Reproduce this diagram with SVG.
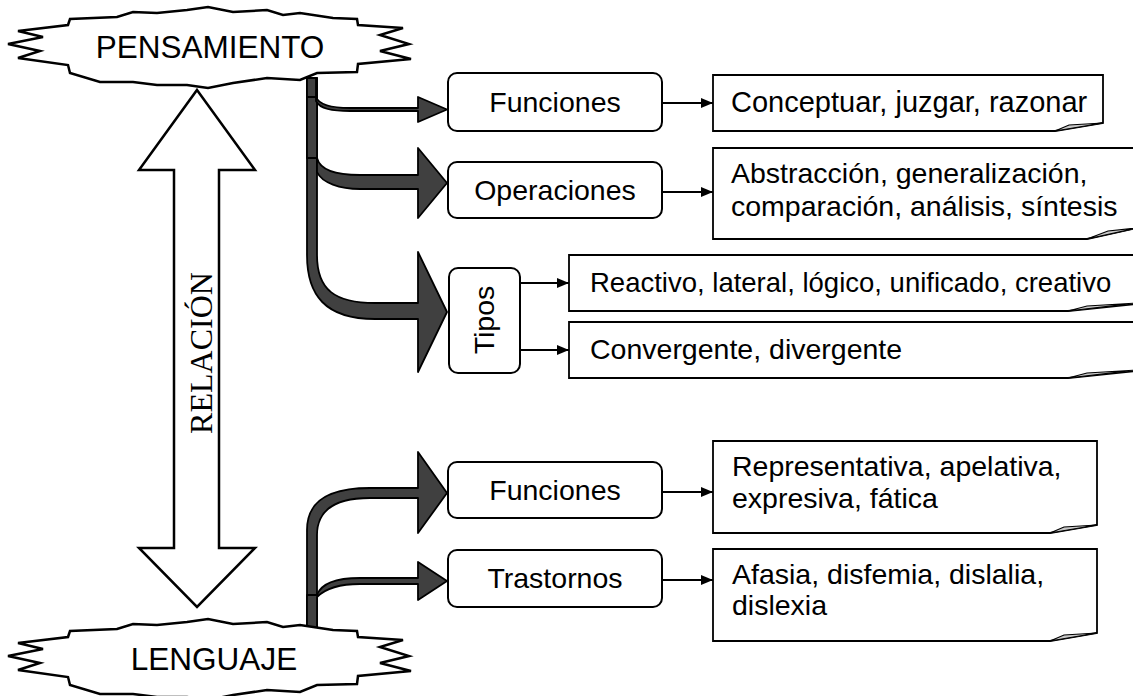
<svg xmlns="http://www.w3.org/2000/svg" width="1133" height="696" viewBox="0 0 1133 696">
<defs>
<style>
.t{font-family:"Liberation Sans",Arial,sans-serif;font-size:28.5px;fill:#000}
.big{font-size:31.5px}
.rb{fill:#fff;stroke:#000;stroke-width:2}
.note{fill:#fff;stroke:#000;stroke-width:1.8}
.fold{fill:#c8c8c8;stroke:#000;stroke-width:1.2}
.bk{fill:#404040;stroke:#000;stroke-width:1.8;stroke-linejoin:round}
.ln{fill:none;stroke:#000;stroke-width:2}
.burst{fill:#fff;stroke:#000;stroke-width:2.5;stroke-linejoin:miter}
</style>
<marker id="ah" markerWidth="12" markerHeight="10" refX="12" refY="5" orient="auto" markerUnits="userSpaceOnUse">
<path d="M0,0 L12,5 L0,10 Z" fill="#000"/>
</marker>
<path id="burstShape" d="M-145,-22 L-143,-28 L-96,-30 L-80,-35 L-56,-34 L-26,-37 L-5,-40 L20,-35 L54,-37 L70,-32 L87,-34 L120,-29 L144,-28 L145,-22 L190,-19 L167,-12 L196,-3 L167,4 L198,12 L145,17 L144,25 L104,26 L87,33 L54,31 L20,36 L-5,41 L-26,38 L-56,38 L-80,35 L-113,35 L-143,26 L-145,18 L-195,11 L-173,4 L-205,-3 L-170,-10 L-195,-16 Z"/>
</defs>
<rect width="1133" height="696" fill="#fff"/>

<g id="connectors">
<path class="bk" d="M307,78 L317,78 L317,255 C317,290 335,303 375,303 L418,303 L418,252 L447,312 L418,372 L418,319 L375,319 C325,319 307,295 307,255 Z"/>
<path class="bk" d="M307,78 L317,78 L317,158 C320,170 335,175 360,175 L418,175 L418,148 L447,183 L418,218 L418,189 L360,189 C340,189 322,183 317,172 L317,158 L307,158 Z"/>
<path class="bk" d="M307,78 L316,78 L316,97 C319,105 330,108 350,108 L418,108 L418,97 L447,109.5 L418,122 L418,111 L350,111 C332,111 320,109 316,101 L316,97 L307,97 Z"/>
<path class="bk" d="M307,632 L307,530 C307,500 330,488 370,488 L418,488 L418,452 L447,493 L418,533 L418,498 L370,498 C335,498 317,510 317,535 L317,632 Z"/>
<path class="bk" d="M307,632 L307,595 L317,595 C321,584 335,578 360,578 L418,578 L418,562 L447,581 L418,600 L418,584 L360,584 C340,584 325,589 317,597 L317,632 Z"/>
<line class="ln" x1="663" y1="103" x2="713" y2="103" marker-end="url(#ah)"/>
<line class="ln" x1="663" y1="192" x2="713" y2="192" marker-end="url(#ah)"/>
<line class="ln" x1="521" y1="283" x2="569" y2="283" marker-end="url(#ah)"/>
<line class="ln" x1="521" y1="350" x2="569" y2="350" marker-end="url(#ah)"/>
<line class="ln" x1="663" y1="492" x2="713" y2="492" marker-end="url(#ah)"/>
<line class="ln" x1="663" y1="580" x2="713" y2="580" marker-end="url(#ah)"/>
</g>

<g id="relacion">
<polygon points="197,90 255,170 219,170 219,548 255,548 197,607 139,548 174,548 174,170 139,170" fill="#fff" stroke="#000" stroke-width="2.5" stroke-linejoin="miter"/>
<text transform="translate(212,353) rotate(-90)" text-anchor="middle" font-family="'Liberation Serif','Times New Roman',serif" font-size="32">RELACIÓN</text>
</g>

<g id="pensamiento">
<use href="#burstShape" class="burst" transform="translate(213,47)"/>
<text class="t big" x="210" y="58" text-anchor="middle">PENSAMIENTO</text>
</g>

<g id="lenguaje">
<use href="#burstShape" class="burst" transform="translate(213,659)"/>
<text class="t big" x="214" y="670" text-anchor="middle">LENGUAJE</text>
</g>

<g id="funciones-p">
<rect class="rb" x="448" y="73" width="214" height="58" rx="9"/>
<text class="t" x="555" y="112" text-anchor="middle">Funciones</text>
</g>
<g id="operaciones">
<rect class="rb" x="448" y="162" width="214" height="56" rx="9"/>
<text class="t" x="555" y="200" text-anchor="middle">Operaciones</text>
</g>
<g id="tipos">
<rect class="rb" x="449" y="268" width="71" height="105" rx="9"/>
<text class="t" transform="translate(494,320) rotate(-90)" text-anchor="middle">Tipos</text>
</g>
<g id="funciones-l">
<rect class="rb" x="448" y="462" width="214" height="56" rx="9"/>
<text class="t" x="555" y="500" text-anchor="middle">Funciones</text>
</g>
<g id="trastornos">
<rect class="rb" x="448" y="550" width="214" height="57" rx="9"/>
<text class="t" x="555" y="588" text-anchor="middle">Trastornos</text>
</g>

<g id="conceptuar">
<path class="note" d="M713,75 L1103,75 L1103,123 L1055,131 L713,131 Z"/>
<path class="fold" d="M1055,131 L1069,125 L1103,123 Z"/>
<text class="t" x="731" y="112" style="font-size:29px">Conceptuar, juzgar, razonar</text>
</g>
<g id="abstraccion">
<path class="note" d="M713,148 L1137,148 L1137,228 L1087,239 L713,239 Z"/>
<path class="fold" d="M1087,239 L1108,231 L1137,228 Z"/>
<text class="t" x="731" y="183">Abstracción, generalización,</text>
<text class="t" x="731" y="216">comparación, análisis, síntesis</text>
</g>
<g id="reactivo">
<path class="note" d="M569,255 L1137,255 L1137,304 L1068,311 L569,311 Z"/>
<path class="fold" d="M1068,311 L1087,306 L1137,303 Z"/>
<text class="t" x="590" y="292" style="font-size:27.5px">Reactivo, lateral, lógico, unificado, creativo</text>
</g>
<g id="convergente">
<path class="note" d="M569,322 L1137,322 L1137,371 L1068,378 L569,378 Z"/>
<path class="fold" d="M1068,378 L1087,373 L1137,370 Z"/>
<text class="t" x="590" y="359">Convergente, divergente</text>
</g>
<g id="representativa">
<path class="note" d="M713,441 L1097,441 L1097,525 L1050,533 L713,533 Z"/>
<path class="fold" d="M1050,533 L1064,527 L1097,525 Z"/>
<text class="t" x="732" y="476">Representativa, apelativa,</text>
<text class="t" x="732" y="508">expresiva, fática</text>
</g>
<g id="afasia">
<path class="note" d="M713,549 L1097,549 L1097,633 L1050,641 L713,641 Z"/>
<path class="fold" d="M1050,641 L1064,635 L1097,633 Z"/>
<text class="t" x="732" y="584">Afasia, disfemia, dislalia,</text>
<text class="t" x="732" y="615">dislexia</text>
</g>
</svg>
